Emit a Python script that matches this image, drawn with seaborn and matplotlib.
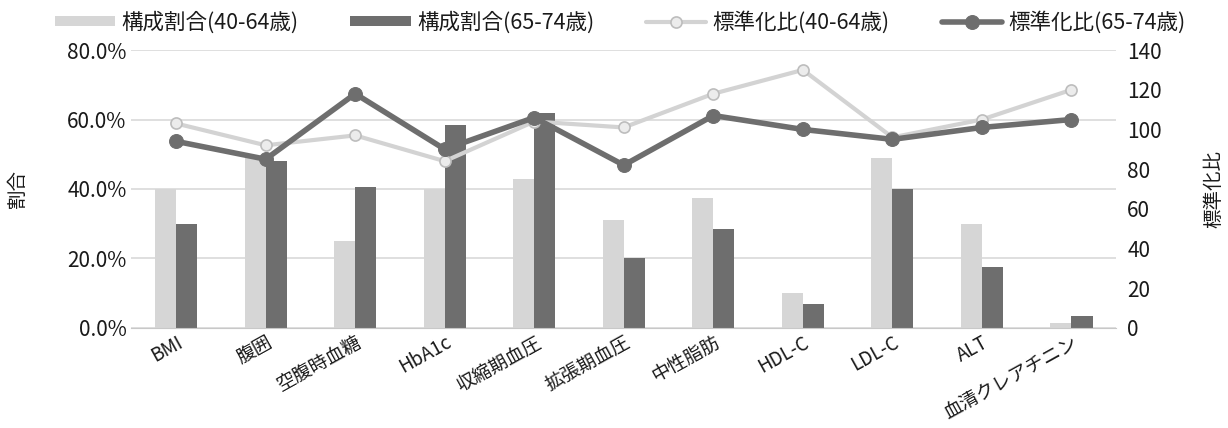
import numpy as np
import pandas as pd
import matplotlib
matplotlib.use('Agg')
import matplotlib.pyplot as plt
from matplotlib.ticker import FuncFormatter, MultipleLocator
import seaborn as sns

# data
categories = ['BMI', '腹囲', '空腹時血糖', 'HbA1c', '収縮期血圧', '拡張期血圧',
              '中性脂肪', 'HDL-C', 'LDL-C', 'ALT', '血清クレアチニン']
share_40_64 = [40.0, 49.0, 25.0, 40.0, 43.0, 31.0, 37.5, 10.0, 49.0, 30.0, 1.5]
share_65_74 = [30.0, 48.0, 40.5, 58.5, 62.0, 20.0, 28.5, 7.0, 40.0, 17.5, 3.5]
ratio_40_64 = [103, 92, 97, 84, 104, 101, 118, 130, 96, 105, 120]
ratio_65_74 = [94, 85, 118, 90, 106, 82, 107, 100, 95, 101, 105]

bar_names = ['構成割合(40-64歳)', '構成割合(65-74歳)']
line_names = ['標準化比(40-64歳)', '標準化比(65-74歳)']

sns.set_style('white')
plt.rcParams['font.family'] = ['Noto Sans CJK JP', 'DejaVu Sans']
plt.rcParams['font.size'] = 15
TXT = '#1a1a1a'

bars = pd.DataFrame({
    'item': categories * 2,
    'group': [bar_names[0]] * len(categories) + [bar_names[1]] * len(categories),
    'value': share_40_64 + share_65_74,
})
pos = np.arange(len(categories))
lines = pd.DataFrame({
    'pos': np.concatenate([pos, pos]),
    'group': [line_names[0]] * len(categories) + [line_names[1]] * len(categories),
    'value': ratio_40_64 + ratio_65_74,
})

fig, ax = plt.subplots(figsize=(12.28, 4.28), dpi=100)
fig.subplots_adjust(left=0.107, right=0.909, bottom=0.234, top=0.883)

sns.barplot(data=bars, x='item', y='value', hue='group', ax=ax,
            palette=['#d6d6d6', '#6e6e6e'], width=0.47, gap=0,
            saturation=1, linewidth=0, zorder=2)
ax.set_ylim(0, 80)
ax.yaxis.set_major_locator(MultipleLocator(20))
ax.yaxis.set_major_formatter(FuncFormatter(lambda v, p: f'{v:.1f}%'))
ax.grid(axis='y', color='#d9d9d9', linewidth=1.2, zorder=0)
ax.set_axisbelow(True)
ax.set_xlabel('')
ax.set_ylabel('割合', color=TXT, labelpad=28, fontsize=14)
ax.tick_params(axis='y', length=0, colors=TXT, labelsize=15)
ax.tick_params(axis='x', length=0, colors=TXT, labelsize=13.5, pad=3)
ax.set_xticks(pos)
ax.set_xticklabels(categories, rotation=29, ha='right', rotation_mode='anchor')
for s in ['top', 'left', 'right']:
    ax.spines[s].set_visible(False)
ax.spines['bottom'].set_color('#c8c8c8')

ax2 = ax.twinx()
sns.lineplot(data=lines[lines.group == line_names[0]], x='pos', y='value', ax=ax2,
             color='#d3d3d3', linewidth=3, marker='o', markersize=8,
             markerfacecolor='#ececec', markeredgecolor='#bdbdbd', markeredgewidth=1.2,
             label=line_names[0])
sns.lineplot(data=lines[lines.group == line_names[1]], x='pos', y='value', ax=ax2,
             color='#6e6e6e', linewidth=4, marker='o', markersize=10,
             markerfacecolor='#6e6e6e', markeredgecolor='#6e6e6e',
             label=line_names[1])
ax2.set_ylim(0, 140)
ax2.yaxis.set_major_locator(MultipleLocator(20))
ax2.set_ylabel('標準化比', color=TXT, labelpad=30, fontsize=14)
ax2.set_xlabel('')
ax2.tick_params(axis='y', length=0, colors=TXT, labelsize=15, pad=8)
for s in ax2.spines.values():
    s.set_visible(False)
ax.set_xlim(-0.5, len(categories) - 0.5)

h1, l1 = ax.get_legend_handles_labels()
h2, l2 = ax2.get_legend_handles_labels()
ax.get_legend().remove()
ax2.get_legend().remove()
fig.legend(h1 + h2, l1 + l2, loc='upper center', bbox_to_anchor=(0.505, 1.02),
           ncol=4, frameon=False, fontsize=15.5, handlelength=2.8, handleheight=0.35,
           columnspacing=2.4, handletextpad=0.3, labelcolor=TXT)

plt.savefig('out.png')
plt.close()
